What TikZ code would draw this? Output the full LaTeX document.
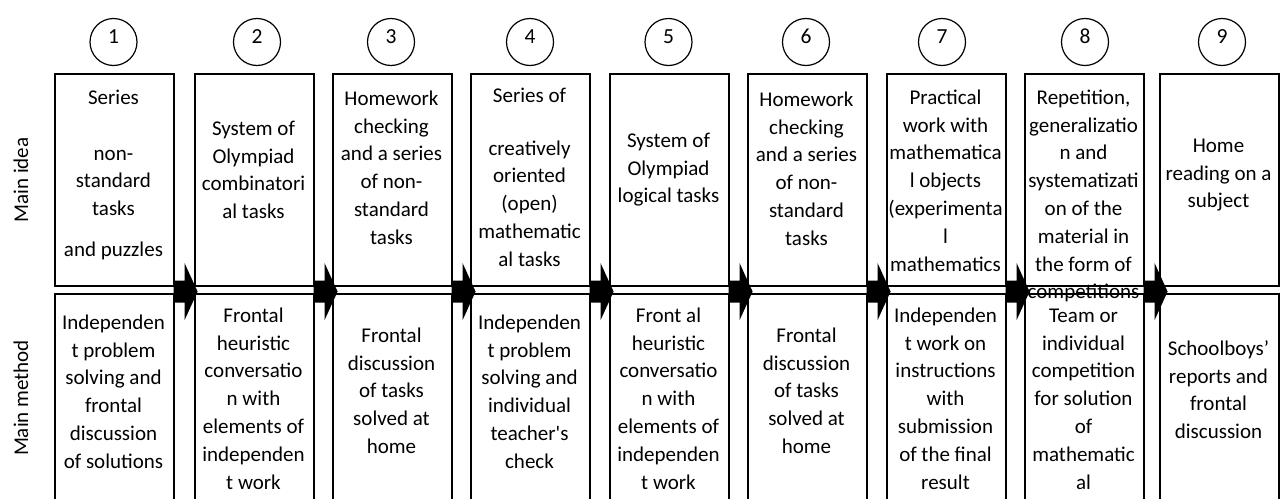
\documentclass[tikz,border=0pt]{standalone}
\usepackage{fontspec}
\setmainfont{Carlito}[Ligatures=TeXOff]
\newcommand{\firstln}{\rule{0pt}{16pt}}
\begin{document}
\begin{tikzpicture}[x=1pt,y=-1pt,
  box/.style={draw, line width=1.6pt, minimum width=119pt, inner sep=0pt, anchor=north west},
  topbox/.style={box, minimum height=212pt},
  botbox/.style={box, minimum height=240pt},
  num/.style={draw, circle, line width=1.2pt, minimum size=47pt, inner sep=0pt,
              text height=13.3pt, text depth=10pt, font=\fontsize{21.5}{25}\selectfont},
  txt/.style={align=center, anchor=north, inner sep=0pt, font=\fontsize{21}{27.8}\selectfont},
  side/.style={rotate=90, inner sep=0pt, font=\fontsize{21}{25}\selectfont},
  blk/.pic={\fill (0,-11) -- (11,-11) -- (11,-28.5) -- (24,0) -- (11,28.5) -- (11,11) -- (0,11) -- cycle;}
]
\useasboundingbox (0,0) rectangle (1284,498);
\clip (0,0) rectangle (1284,498);

% side labels
\node[side] (lidea) at (21,180) {Main idea};
\node[side] (lmethod) at (21,398) {Main method};

% circles
\node[num] (c1) at (113.5,42) {1};
\node[num] (c2) at (257,42) {2};
\node[num] (c3) at (391,42) {3};
\node[num] (c4) at (530,42) {4};
\node[num] (c5) at (668.5,42) {5};
\node[num] (c6) at (806,42) {6};
\node[num] (c7) at (942,42) {7};
\node[num] (c8) at (1085,42) {8};
\node[num] (c9) at (1222,42) {9};

% top boxes
\node[topbox] (t1) at (54,73) {};
\node[topbox] (t2) at (194,73) {};
\node[topbox] (t3) at (332,73) {};
\node[topbox] (t4) at (470,73) {};
\node[topbox] (t5) at (609,73) {};
\node[topbox] (t6) at (747,73) {};
\node[topbox] (t7) at (886,73) {};
\node[topbox] (t8) at (1024,73) {};
\node[topbox] (t9) at (1159,73) {};

% bottom boxes
\node[botbox] (b1) at (54,293) {};
\node[botbox] (b2) at (194,293) {};
\node[botbox] (b3) at (332,293) {};
\node[botbox] (b4) at (470,293) {};
\node[botbox] (b5) at (609,293) {};
\node[botbox] (b6) at (747,293) {};
\node[botbox] (b7) at (886,293) {};
\node[botbox] (b8) at (1024,293) {};
\node[botbox] (b9) at (1159,293) {};

% top texts
\node[txt] (tt1) at (113.5,88) {\firstln Series\\[28pt]non-\\standard\\tasks\\[13pt]and puzzles};
\node[txt] (tt2) at (253.5,119) {\firstln System of\\Olympiad\\combinatori\\al tasks};
\node[txt] (tt3) at (391.5,89) {\firstln Homework\\checking\\and a series\\of non-\\standard\\tasks};
\node[txt] (tt4) at (529.5,86) {\firstln Series of\\[25pt]creatively\\oriented\\(open)\\mathematic\\al tasks};
\node[txt] (tt5) at (668.5,131) {\firstln System of\\Olympiad\\logical tasks};
\node[txt] (tt6) at (806.5,90) {\firstln Homework\\checking\\and a series\\of non-\\standard\\tasks};
\node[txt] (tt7) at (945.5,88) {\firstln Practical\\work with\\mathematica\\l objects\\(experimenta\\l\\mathematics};
\node[txt] (tt8) at (1083.5,88) {\firstln Repetition,\\generalizatio\\n and\\systematizati\\on of the\\material in\\the form of\\competitions};
\node[txt] (tt9) at (1218.5,136) {\firstln Home\\reading on a\\subject};

% bottom texts
\node[txt] (bt1) at (113.5,313) {\firstln Independen\\t problem\\solving and\\frontal\\discussion\\of solutions};
\node[txt] (bt2) at (253.5,306) {\firstln Frontal\\heuristic\\conversatio\\n with\\elements of\\independen\\t work};
\node[txt] (bt3) at (391.5,326) {\firstln Frontal\\discussion\\of tasks\\solved at\\home};
\node[txt] (bt4) at (529.5,313) {\firstln Independen\\t problem\\solving and\\individual\\teacher's\\check};
\node[txt] (bt5) at (668.5,306) {\firstln Front al\\heuristic\\conversatio\\n with\\elements of\\independen\\t work};
\node[txt] (bt6) at (806.5,326) {\firstln Frontal\\discussion\\of tasks\\solved at\\home};
\node[txt] (bt7) at (945.5,306) {\firstln Independen\\t work on\\instructions\\with\\submission\\of the final\\result};
\node[txt] (bt8) at (1083.5,306) {\firstln Team or\\individual\\competition\\for solution\\of\\mathematic\\al};
\node[txt] (bt9) at (1218.5,339) {\firstln Schoolboys’\\reports and\\frontal\\discussion};

% block arrows between columns
\foreach \i in {1,...,8} {
  \pic at ([xshift=-1pt,yshift=-5pt]t\i.south east) {blk};
}
\end{tikzpicture}
\end{document}
